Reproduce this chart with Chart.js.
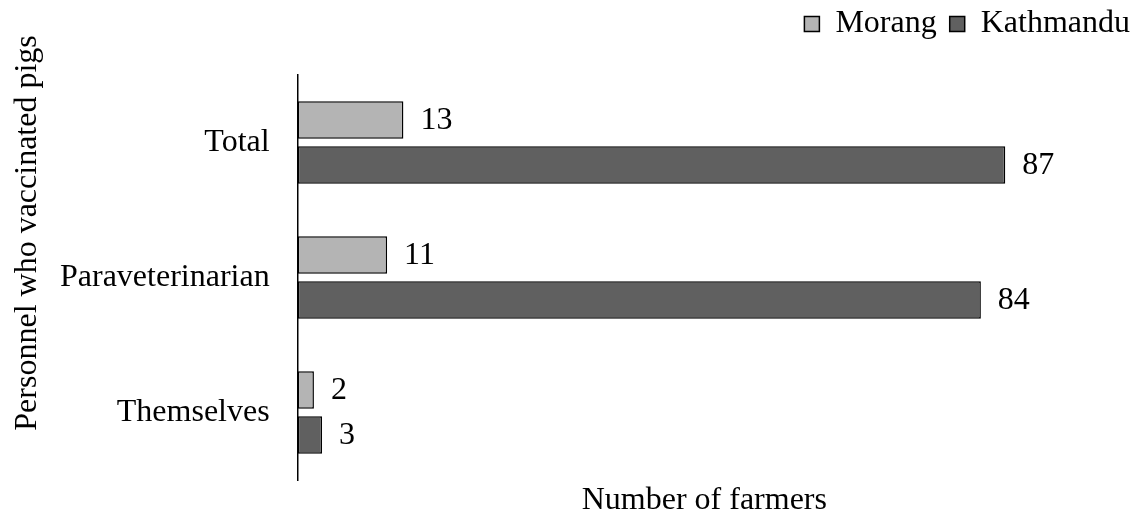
<!DOCTYPE html>
<html>
<head>
<meta charset="utf-8">
<script src="https://cdn.jsdelivr.net/npm/chart.js@4/dist/chart.umd.min.js"></script>
<style>
  html, body { margin: 0; padding: 0; background: #fff; }
  #wrap { width: 1133px; height: 515px; }
</style>
</head>
<body>
<div id="wrap"><canvas id="c"></canvas></div>
<script>
const categories = ['Total', 'Paraveterinarian', 'Themselves'];
const morang = [13, 11, 2];
const kathmandu = [87, 84, 3];
const seriesNames = ['Morang', 'Kathmandu'];
const xTitle = 'Number of farmers';
const yTitle = 'Personnel who vaccinated pigs';

const FONT = "'Liberation Serif', 'Times New Roman', serif";
const FS = 32;

// value labels drawn just past the end of each bar
const valueLabels = {
  id: 'valueLabels',
  afterDatasetsDraw(chart) {
    const ctx = chart.ctx;
    ctx.save();
    ctx.font = FS + 'px ' + FONT;
    ctx.fillStyle = '#000';
    ctx.textBaseline = 'middle';
    ctx.textAlign = 'left';
    chart.data.datasets.forEach((ds, i) => {
      chart.getDatasetMeta(i).data.forEach((bar, j) => {
        ctx.fillText(String(ds.data[j]), bar.x + 17, bar.y + 1);
      });
    });
    ctx.restore();
  }
};

// rotated y-axis title on the left edge
const yAxisTitle = {
  id: 'yAxisTitle',
  afterDraw(chart) {
    const ctx = chart.ctx;
    const a = chart.chartArea;
    ctx.save();
    ctx.font = FS + 'px ' + FONT;
    ctx.fillStyle = '#000';
    ctx.textAlign = 'center';
    ctx.textBaseline = 'middle';
    ctx.translate(28, a.top + (a.bottom - a.top) * 0.39);
    ctx.rotate(-Math.PI / 2);
    ctx.fillText(yTitle, 0, 0);
    ctx.restore();
  }
};

// extra space under the legend and a nudge towards the top-right corner
const legendPlacement = {
  id: 'legendPlacement',
  afterInit(chart) {
    const lg = chart.legend;
    const fit = lg.fit.bind(lg);
    lg.fit = function () { fit(); this.height += 20; };
  },
  afterLayout(chart) {
    const lg = chart.legend;
    lg.left += 32;
    lg.right += 32;
    lg.top -= 5;
    lg.bottom -= 5;
  }
};

new Chart(document.getElementById('c'), {
  type: 'bar',
  data: {
    labels: categories,
    datasets: [
      {
        label: seriesNames[0],
        data: morang,
        backgroundColor: '#b4b4b4',
        borderColor: '#000',
        borderWidth: 1.5,
        borderSkipped: false,
        categoryPercentage: 0.667,
        barPercentage: 0.83
      },
      {
        label: seriesNames[1],
        data: kathmandu,
        backgroundColor: '#606060',
        borderColor: '#000',
        borderWidth: 1.5,
        borderSkipped: false,
        categoryPercentage: 0.667,
        barPercentage: 0.83
      }
    ]
  },
  options: {
    indexAxis: 'y',
    responsive: true,
    maintainAspectRatio: false,
    animation: false,
    devicePixelRatio: 1,
    layout: { padding: { left: 32, right: 22, top: 0, bottom: 0 } },
    plugins: {
      legend: {
        position: 'top',
        align: 'end',
        labels: {
          font: { family: FONT, size: FS },
          color: '#000',
          boxWidth: 15,
          boxHeight: 15,
          padding: 13,
          useBorderRadius: false
        }
      },
      tooltip: { enabled: false }
    },
    scales: {
      x: {
        min: 0,
        max: 100,
        grid: { display: false, drawTicks: false },
        border: { display: false },
        ticks: { display: false },
        title: {
          display: true,
          text: xTitle,
          color: '#000',
          font: { family: FONT, size: FS, lineHeight: 1 },
          padding: { top: 0, bottom: -2 }
        },
        afterFit(scale) { scale.height = 35; }
      },
      y: {
        grid: { display: false, drawTicks: false },
        border: { display: true, color: '#000', width: 1.5 },
        ticks: {
          color: '#000',
          font: { family: FONT, size: FS, lineHeight: 0.2 },
          padding: 28
        }
      }
    }
  },
  plugins: [valueLabels, yAxisTitle, legendPlacement]
});
</script>
</body>
</html>
